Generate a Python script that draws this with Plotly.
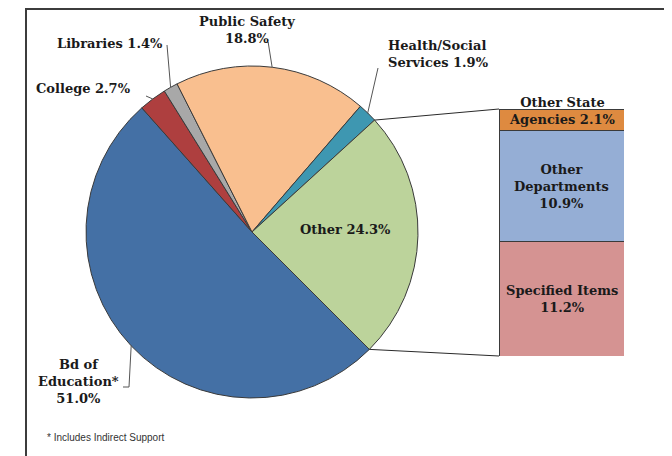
import math
import plotly.graph_objects as go

# ---- data ----
pie_labels = ["Bd of Education*", "College", "Libraries", "Public Safety", "Health/Social Services", "Other"]
pie_values = [51.0, 2.7, 1.4, 18.8, 1.9, 24.3]
pie_colors = ["#4470A5", "#AE3F3F", "#A8A8A8", "#F9BF8F", "#3E97B1", "#BCD39B"]

bar_labels = ["Specified Items", "Other Departments", "Other State Agencies"]
bar_values = [11.2, 10.9, 2.1]
bar_colors = ["#D59392", "#95AED5", "#DE8A40"]

footnote = "* Includes Indirect Support"

# the page body has an 8px margin, so the figure is drawn 8px in from the window edge
OFF = 8
W, H = 672 - OFF, 456 - OFF
FONT = "DejaVu Serif"
FS = 13

# pie geometry (window pixels)
CX, CY, R = 252, 232, 166
ROT = 135


def px(x):
    return (x - OFF) / W


def py(y):
    return 1 - (y - OFF) / H


fig = go.Figure()

fig.add_trace(go.Pie(
    labels=pie_labels, values=pie_values, sort=False, direction="clockwise",
    rotation=ROT, marker=dict(colors=pie_colors, line=dict(color="#3A3A3A", width=1)),
    textinfo="none", hoverinfo="none", showlegend=False,
    domain=dict(x=[px(CX - R), px(CX + R)], y=[py(CY + R), py(CY - R)]),
))

for lab, val, col in zip(bar_labels, bar_values, bar_colors):
    fig.add_trace(go.Bar(
        x=[0], y=[val], name=lab, marker=dict(color=col, line=dict(color="#3A3A3A", width=1)),
        width=1, hoverinfo="none", showlegend=False,
    ))

BX0, BX1, BY0, BY1 = 499, 624, 356, 109
total_bar = sum(bar_values)

fig.update_layout(
    width=W, height=H, margin=dict(l=0, r=0, t=0, b=0),
    paper_bgcolor="white", plot_bgcolor="rgba(0,0,0,0)", barmode="stack",
    xaxis=dict(domain=[px(BX0), px(BX1)], range=[-0.5, 0.5], visible=False, fixedrange=True),
    yaxis=dict(domain=[py(BY0), py(BY1)], range=[0, total_bar], visible=False, fixedrange=True),
)


# slice boundary / mid angles from the data
tot = sum(pie_values)
starts = []
acc = 0
for v in pie_values:
    starts.append(ROT + acc / tot * 360)
    acc += v


def edge(angle_deg, r=R):
    a = math.radians(angle_deg)
    return CX + r * math.sin(a), CY - r * math.cos(a)


def mid(i):
    return starts[i] + pie_values[i] / tot * 180


shapes = []


def line(p0, p1, color="#555555", width=1):
    shapes.append(dict(type="line", xref="paper", yref="paper",
                       x0=px(p0[0]), y0=py(p0[1]), x1=px(p1[0]), y1=py(p1[1]),
                       line=dict(color=color, width=width)))


# frame (left and top edges)
shapes.append(dict(type="path", xref="paper", yref="paper",
                   path=f"M {px(26)} {py(470)} L {px(26)} {py(9)} L {px(690)} {py(9)}",
                   line=dict(color="#3C3C3C", width=2)))

# leader lines
ps = edge(mid(3))
line(ps, (ps[0] - 4, 42))
line(edge(mid(2)), (167, 45))
line(edge(mid(1)), (146, 96))
line(edge(mid(4)), (378, 68))
be = edge(mid(0))
line(be, (129, 387))
line((129, 387), (123, 387))

# connector lines pie -> bar
other_start = edge(starts[5])
other_end = edge(starts[5] + pie_values[5] / tot * 360)
line(other_start, (BX0, BY1), color="#2A2A2A", width=1)
line(other_end, (BX0, BY0), color="#2A2A2A", width=1)

fig.update_layout(shapes=shapes)

ann = []


def lab(text, x, y, xanchor="center", align="center", size=FS, family=FONT, color="#1A1A1A"):
    ann.append(dict(text=text, x=px(x), y=py(y), xref="paper", yref="paper",
                    xanchor=xanchor, yanchor="middle", align=align, showarrow=False,
                    font=dict(family=family, size=size, color=color)))


lab(f"<b>Public Safety<br>{pie_values[3]:.1f}%</b>", 247, 30)
lab(f"<b>Libraries {pie_values[2]:.1f}%</b>", 110, 43)
lab(f"<b>College {pie_values[1]:.1f}%</b>", 83, 88)
lab(f"<b>Health/Social<br>Services {pie_values[4]:.1f}%</b>", 386, 54, xanchor="left", align="left")
lab(f"<b>Other {pie_values[5]:.1f}%</b>", 345, 229)
lab(f"<b>Bd of<br>Education*<br>{pie_values[0]:.1f}%</b>", 78, 381)
lab(footnote, 45, 437, xanchor="left", size=10, family="Liberation Sans", color="#333333")

# bar labels, positioned at segment midpoints
cum = 0
mids = []
for v in bar_values:
    mids.append(cum + v / 2)
    cum += v

bar_texts = [
    f"<b>Specified Items<br>{bar_values[0]:.1f}%</b>",
    f"<b>Other<br>Departments<br>{bar_values[1]:.1f}%</b>",
    f"<b>Other State<br>Agencies {bar_values[2]:.1f}%</b>",
]
shifts = [0, 0, 9]
for t, m, s in zip(bar_texts, mids, shifts):
    ann.append(dict(text=t, x=0, y=m, xref="x", yref="y", showarrow=False, yshift=s,
                    xanchor="center", yanchor="middle", align="center",
                    font=dict(family=FONT, size=FS, color="#1A1A1A")))

fig.update_layout(annotations=ann)

fig.write_html("out.html")
